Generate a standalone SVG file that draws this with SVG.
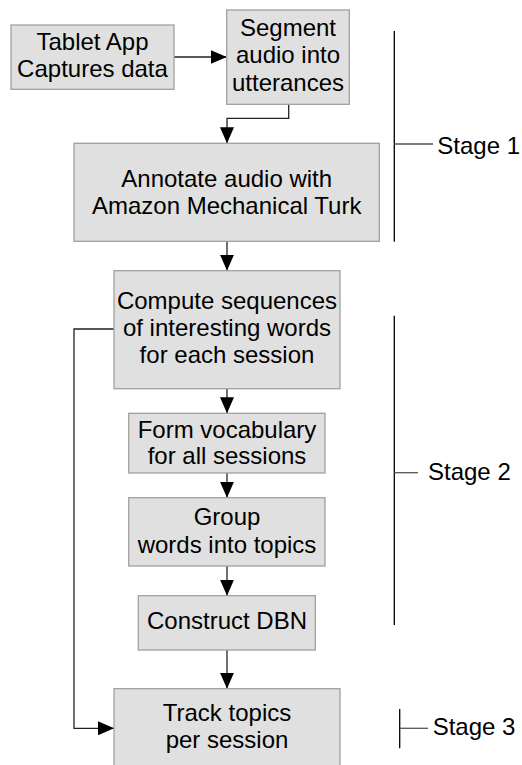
<svg xmlns="http://www.w3.org/2000/svg" width="522" height="765" viewBox="0 0 522 765">
<style>
.box{fill:#e0e0e0;stroke:#a0a0a0;stroke-width:1.3}
.t{font-family:"Liberation Sans",Arial,sans-serif;font-size:24px;fill:#000;text-anchor:middle}
.s{font-family:"Liberation Sans",Arial,sans-serif;font-size:24px;fill:#000}
.c{fill:none;stroke:#222;stroke-width:1.3}
.v{stroke:#000;stroke-width:1.3}
.k{stroke:#555;stroke-width:1.3}
</style>
<defs>
<marker id="ah" viewBox="0 0 16 14" refX="16" refY="7" markerWidth="16" markerHeight="14" markerUnits="userSpaceOnUse" orient="auto">
<path d="M0,0 L16,7 L0,14 Z" fill="#000"/>
</marker>
</defs>
<g id="connectors">
<path class="c" d="M174,57 H226.7" marker-end="url(#ah)"/>
<path class="c" d="M288.7,104.3 V118.3 H227 V143.3" marker-end="url(#ah)"/>
<path class="c" d="M227,241.3 V270.7" marker-end="url(#ah)"/>
<path class="c" d="M227,388.7 V413.3" marker-end="url(#ah)"/>
<path class="c" d="M227,473 V497.7" marker-end="url(#ah)"/>
<path class="c" d="M227,566 V595.7" marker-end="url(#ah)"/>
<path class="c" d="M227,650 V688.7" marker-end="url(#ah)"/>
<path class="c" d="M114,329 H74 V728.3 H114" marker-end="url(#ah)"/>
</g>
<g id="tablet">
<rect class="box" x="11" y="25" width="163" height="64.3"/>
<text class="t" x="92.5" y="50">Tablet App</text>
<text class="t" x="92.5" y="77.3">Captures data</text>
</g>
<g id="segment">
<rect class="box" x="226.7" y="10" width="122.6" height="94.3"/>
<text class="t" x="288" y="36">Segment</text>
<text class="t" x="288" y="63.3">audio into</text>
<text class="t" x="288" y="90.7">utterances</text>
</g>
<g id="annotate">
<rect class="box" x="74" y="143.3" width="305.3" height="98"/>
<text class="t" x="226.7" y="187">Annotate audio with</text>
<text class="t" x="226.7" y="213.5">Amazon Mechanical Turk</text>
</g>
<g id="compute">
<rect class="box" x="114" y="270.7" width="226" height="118"/>
<text class="t" x="227" y="309.3">Compute sequences</text>
<text class="t" x="227" y="336">of interesting words</text>
<text class="t" x="227" y="363.3">for each session</text>
</g>
<g id="vocab">
<rect class="box" x="128.7" y="413.3" width="196.3" height="59.7"/>
<text class="t" x="227" y="437.7">Form vocabulary</text>
<text class="t" x="227" y="464.3">for all sessions</text>
</g>
<g id="group">
<rect class="box" x="128.7" y="497.7" width="196.3" height="68.3"/>
<text class="t" x="227" y="525">Group</text>
<text class="t" x="227" y="552.7">words into topics</text>
</g>
<g id="dbn">
<rect class="box" x="138.3" y="595.7" width="177" height="54.3"/>
<text class="t" x="227" y="629.3">Construct DBN</text>
</g>
<g id="track">
<rect class="box" x="114" y="688.7" width="226" height="90"/>
<text class="t" x="227" y="721">Track topics</text>
<text class="t" x="227" y="748.3">per session</text>
</g>
<g id="stage1">
<line class="v" x1="394.3" y1="31" x2="394.3" y2="241.7"/>
<line class="k" x1="394.3" y1="144" x2="433" y2="144"/>
<text class="s" x="437.3" y="154">Stage 1</text>
</g>
<g id="stage2">
<line class="v" x1="394.3" y1="315.7" x2="394.3" y2="625"/>
<line class="k" x1="394.3" y1="472.7" x2="418" y2="472.7"/>
<text class="s" x="428" y="480">Stage 2</text>
</g>
<g id="stage3">
<line class="v" x1="399.7" y1="709" x2="399.7" y2="748.3"/>
<line class="k" x1="399.7" y1="728.3" x2="428" y2="728.3"/>
<text class="s" x="432.7" y="735">Stage 3</text>
</g>
</svg>
